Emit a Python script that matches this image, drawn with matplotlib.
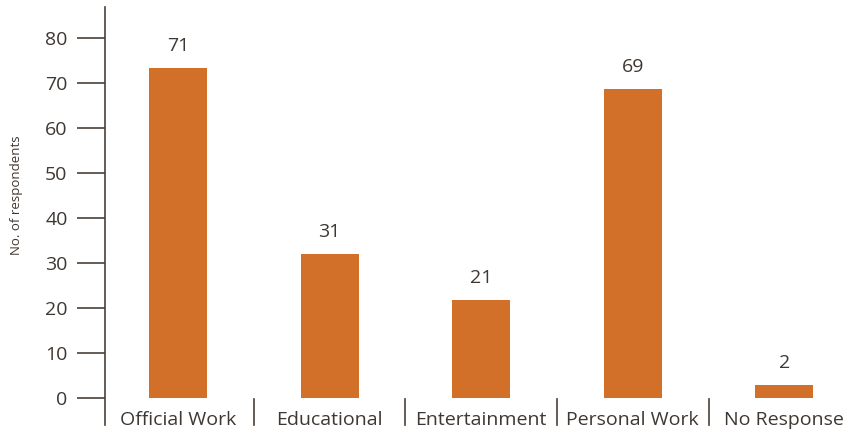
import matplotlib
matplotlib.use("Agg")
import matplotlib.pyplot as plt

categories = ["Official Work", "Educational", "Entertainment", "Personal Work", "No Response"]
bar_heights = [73.5, 32.0, 21.8, 68.8, 2.9]   # heights as drawn in the picture
value_labels = ["71", "31", "21", "69", "2"]   # printed labels
yticks = [0, 10, 20, 30, 40, 50, 60, 70, 80]

BAR = "#D2702A"
TXT = "#3F3731"
AX = "#4A4037"
FONT = ["Open Sans", "DejaVu Sans"]
plt.rcParams['font.family'] = FONT

W, H = 848, 433
fig = plt.figure(figsize=(W / 100, H / 100), dpi=100)
ax = fig.add_axes([105 / W, (H - 425) / H, (W - 105) / W, 418 / H])

x = list(range(len(categories)))
ax.bar(x, bar_heights, width=0.383, color=BAR, zorder=2)

ax.set_xlim(-0.482, 4.42)
ax.set_ylim(-6.1, 87.0)

for s in ["top", "right", "bottom"]:
    ax.spines[s].set_visible(False)
ax.spines["left"].set_color(AX)
ax.spines["left"].set_linewidth(1.2)

ax.set_yticks(yticks)
ax.set_yticklabels([str(t) for t in yticks])
ax.tick_params(axis="y", length=20, width=1.2, color=AX, pad=7, labelsize=14, labelcolor=TXT)
ax.set_xticks([])

for xi, h, lab in zip(x, bar_heights, value_labels):
    ax.annotate(lab, (xi, h), xytext=(0, 15.5), textcoords="offset points",
                ha="center", va="center", fontsize=14, color=TXT)

for xi, cat in zip(x, categories):
    ax.text(xi, -5.0, cat, ha="center", va="center", fontsize=14, color=TXT)

for i in range(1, len(categories)):
    ax.plot([i - 0.5, i - 0.5], [-6.1, -0.3], color=AX, lw=1.2, clip_on=False)

fig.text(17 / W, 1 - 195 / H, "No. of respondents", rotation=90, ha="center", va="center",
         fontsize=9.5, color=TXT)

fig.savefig("out.png", dpi=100)
